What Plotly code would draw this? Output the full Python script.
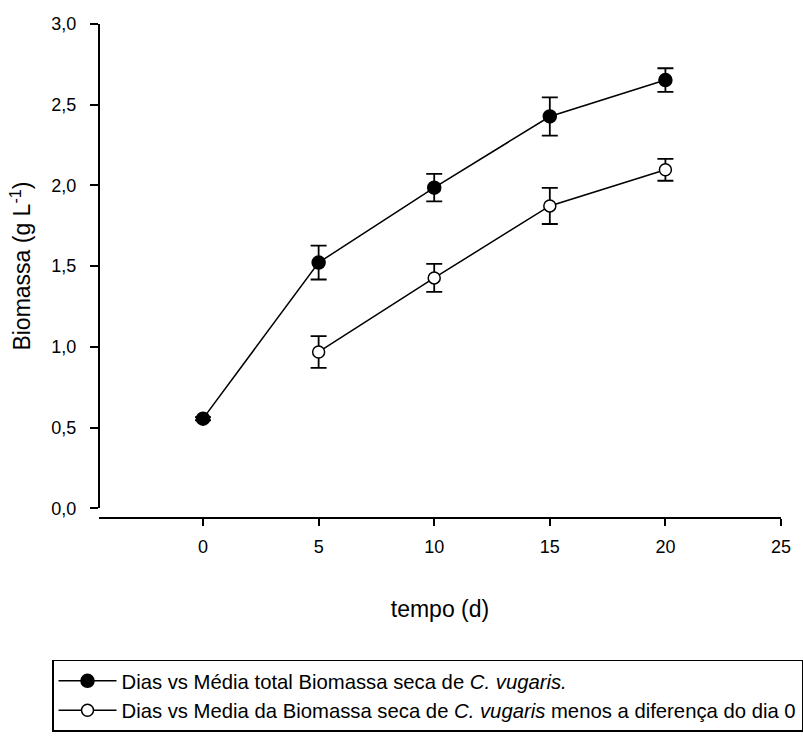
import plotly.graph_objects as go

# Data
dias_total = [0, 5, 10, 15, 20]
media_total = [0.555, 1.522, 1.986, 2.427, 2.653]
erro_total = [0.01, 0.105, 0.085, 0.118, 0.073]

dias_dif = [5, 10, 15, 20]
media_dif = [0.968, 1.427, 1.873, 2.097]
erro_dif = [0.098, 0.087, 0.112, 0.068]

x_ticks = [0, 5, 10, 15, 20, 25]
y_ticks = [0.0, 0.5, 1.0, 1.5, 2.0, 2.5, 3.0]

nome_total = "Dias vs Média total Biomassa seca de <i>C. vugaris.</i>"
nome_dif = "Dias vs Media da Biomassa seca de <i>C. vugaris</i> menos a diferença do dia 0"

FONT = "Liberation Sans, Arial, sans-serif"

fig = go.Figure()
fig.add_trace(go.Scatter(
    x=dias_total, y=media_total, name=nome_total, mode="lines+markers",
    line=dict(color="black", width=1.5),
    marker=dict(symbol="circle", size=13, color="black", line=dict(color="black", width=1.5)),
    error_y=dict(type="data", array=erro_total, visible=True, color="black", thickness=1.8, width=8),
))
fig.add_trace(go.Scatter(
    x=dias_dif, y=media_dif, name=nome_dif, mode="lines+markers",
    line=dict(color="black", width=1.5),
    marker=dict(symbol="circle", size=12, color="white", line=dict(color="black", width=1.5)),
    error_y=dict(type="data", array=erro_dif, visible=True, color="black", thickness=1.8, width=8),
))

fig.update_layout(
    width=803, height=744,
    paper_bgcolor="white", plot_bgcolor="white",
    margin=dict(l=99, r=13, t=24, b=214),
    separators=",.",
    font=dict(family=FONT, size=18, color="black"),
    showlegend=True,
    legend=dict(
        x=-0.0666, y=-0.2866, xanchor="left", yanchor="top",
        bordercolor="black", borderwidth=1.5, bgcolor="white",
        font=dict(family=FONT, size=20.3, color="black"),
        itemwidth=58, tracegroupgap=0,
    ),
    xaxis=dict(
        range=[-4.5, 25], tickvals=x_ticks, ticktext=[str(v) for v in x_ticks],
        anchor="free", position=0,
        showline=True, linecolor="black", linewidth=2,
        ticks="outside", ticklen=7, tickwidth=1.5, tickcolor="black",
        ticklabelstandoff=5,
        showgrid=False, zeroline=False,
        tickfont=dict(family=FONT, size=18, color="black"),
        title=dict(text="tempo (d)", font=dict(family=FONT, size=23, color="black"), standoff=44),
    ),
    yaxis=dict(
        range=[0, 3], tickvals=y_ticks, tickformat=".1f",
        domain=[10 / 506, 1],
        anchor="free", position=0,
        showline=True, linecolor="black", linewidth=2,
        ticks="outside", ticklen=8, tickwidth=1.5, tickcolor="black",
        ticklabelstandoff=10,
        showgrid=False, zeroline=False,
        tickfont=dict(family=FONT, size=18, color="black"),
        title=dict(text="Biomassa (g L<sup>-1</sup>)", font=dict(family=FONT, size=23, color="black"), standoff=13),
    ),
)

fig.write_html(
    "out.html",
    config={"displayModeBar": False},
    post_script="document.body.style.margin='0';",
)
